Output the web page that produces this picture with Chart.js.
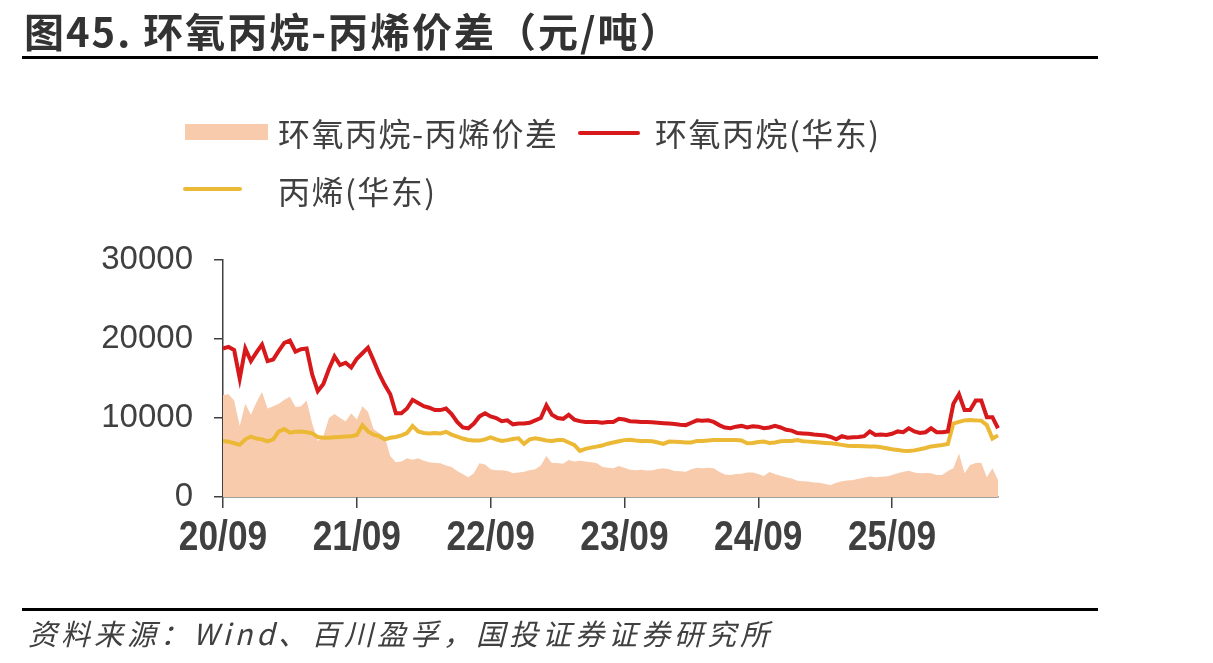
<!DOCTYPE html>
<html>
<head>
<meta charset="utf-8">
<script src="https://cdn.jsdelivr.net/npm/chart.js@4"></script>
<style>
  body { margin: 0; background: #fff; }
  #wrap { position: relative; width: 1213px; height: 663px; overflow: hidden; font-family: "Noto Sans CJK SC", sans-serif; color: #404040; }
  #c { position: absolute; left: 0; top: 0; }
  .txt { position: absolute; white-space: nowrap; }
  #title { left: 24px; top: 10px; font-size: 40px; line-height: 40px; font-weight: bold; letter-spacing: 2px; color: #333; }
  .rule { position: absolute; left: 22px; width: 1076px; height: 3px; background: #000; }
  .leg { font-size: 32px; line-height: 32px; letter-spacing: 1.5px; }
  .sw { position: absolute; }
  #source { left: 28px; top: 616px; font-size: 29px; line-height: 32px; font-style: italic; letter-spacing: 4px; }
</style>
</head>
<body>
<div id="wrap">
  <canvas id="c" width="1213" height="663"></canvas>
  <div class="txt" id="title">图45. 环氧丙烷-丙烯价差（元/吨）</div>
  <div class="rule" style="top:56px"></div>

  <div class="sw" style="left:185px;top:124px;width:83px;height:16px;background:#F8CBAD"></div>
  <div class="txt leg" style="left:278px;top:116px">环氧丙烷-丙烯价差</div>
  <div class="sw" style="left:578px;top:131px;width:62px;height:4px;border-radius:2px;background:#D7191C"></div>
  <div class="txt leg" style="left:655px;top:116px">环氧丙烷(华东)</div>
  <div class="sw" style="left:183px;top:187px;width:59px;height:4px;border-radius:2px;background:#EBB935"></div>
  <div class="txt leg" style="left:278px;top:174px">丙烯(华东)</div>

  <div class="rule" style="top:608px"></div>
  <div class="txt" id="source">资料来源：Wind、百川盈孚，国投证券证券研究所</div>
</div>

<script>
// half-month points from 2020-09 onwards
const dates = [];
for (let k = 0; k < 140; k++) {
  const m = 8 + Math.floor(k / 2);
  const y = 2020 + Math.floor(m / 12);
  const mm = String(m % 12 + 1).padStart(2, '0');
  dates.push(y + '-' + mm + (k % 2 ? '-16' : '-01'));
}

// 环氧丙烷(华东), 元/吨
const poEast = [
  18800,19000,18600,15000,18800,17200,18300,19300,17200,17400,
  18500,19500,19800,18400,18700,18800,15500,13400,14300,16200,
  17800,16700,17000,16400,17500,18200,18900,17300,15600,14200,
  13000,10600,10600,11200,12300,11900,11500,11300,11000,11000,
  11200,10500,9500,8800,8700,9300,10200,10600,10200,10000,
  9600,9700,9200,9300,9300,9400,9700,10000,11600,10400,
  10000,9900,10400,9800,9600,9500,9500,
  9500,9400,9500,9500,9900,9800,9600,9550,9500,9500,
  9450,9400,9350,9300,9250,9150,9100,9400,9700,9650,
  9700,9500,9100,8800,8700,8900,9000,8800,8950,8900,
  8700,8800,9000,8800,8500,8400,8100,8050,8000,7900,
  7850,7800,7600,7300,7700,7500,7550,7600,7700,8300,
  7850,7900,7850,8000,8300,8200,8700,8300,8100,8200,
  8700,8200,8200,8300,11800,13000,11000,11000,12200,12200,
  10100,10100,8700
];

// 丙烯(华东), 元/吨
const propEast = [
  7100,7000,6800,6600,7300,7650,7400,7300,7050,7300,
  8300,8600,8150,8250,8300,8200,8050,7600,7500,7500,
  7550,7600,7650,7700,7850,9100,8300,7900,7700,7300,
  7500,7600,7800,8100,9000,8300,8100,8050,8100,8050,
  8250,7900,7650,7400,7220,7150,7140,7300,7560,7300,
  7100,7200,7350,7430,6720,7300,7430,7300,7150,7100,
  7200,7220,6900,6590,5830,6100,6250,
  6380,6510,6750,6900,7050,7200,7250,7150,7100,7100,
  7050,6900,6720,7010,7000,6950,6900,6900,7100,7100,
  7150,7200,7220,7220,7220,7200,7150,6800,6850,6950,
  7010,6850,6900,7050,7100,7100,7200,7050,7010,6950,
  6900,6850,6800,6700,6600,6500,6460,6450,6420,6400,
  6380,6300,6170,6050,5950,5850,5830,5900,6040,6200,
  6400,6500,6590,6700,9300,9500,9700,9750,9700,9650,
  9100,7400,7800
];

// 环氧丙烷-丙烯价差, 元/吨
const spread = [
  12900,13000,12200,9000,11800,10400,12000,13300,11200,11500,
  11800,12300,12700,11400,11500,12200,9300,7100,7700,10000,
  10500,10000,9600,10600,9800,11500,10800,8600,8100,7600,
  5200,4400,4500,4900,4700,4900,4600,4400,4300,4270,
  4000,3800,3300,2900,2500,3000,4270,4100,3500,3400,
  3400,3300,3000,3100,3200,3400,3500,4000,5200,4300,
  4300,4200,4690,4500,4600,4500,4400,
  4300,3840,3700,3650,3930,3700,3450,3400,3450,3350,
  3400,3550,3630,3500,3300,3250,3210,3500,3700,3650,
  3700,3650,3200,2850,2800,2900,2950,3100,3100,2900,
  2660,3150,2900,2700,2500,2350,2070,2000,1950,1850,
  1800,1650,1520,1800,2000,2100,2150,2300,2450,2600,
  2500,2550,2600,2800,3000,3200,3330,3100,3000,3050,
  3000,2800,2790,3300,3630,5500,3000,4060,4300,4350,
  2500,3630,2150
];

const yTicks = [0, 10000, 20000, 30000];
const axisColor = '#404040';

// draws the x tick labels in a condensed bold face (no narrow font installed)
const condensedXLabels = {
  id: 'condensedXLabels',
  afterDraw(chart) {
    const s = chart.scales.x;
    const ctx = chart.ctx;
    ctx.save();
    ctx.font = 'bold 42px "Liberation Sans", Arial, sans-serif';
    ctx.fillStyle = axisColor;
    ctx.textAlign = 'center';
    ctx.textBaseline = 'middle';
    s.ticks.forEach((t, i) => {
      if (t.label == null) return;
      ctx.save();
      ctx.translate(s.getPixelForTick(i), s.top + 41);
      ctx.scale(0.84, 1);
      ctx.fillText(t.label, 0, 0);
      ctx.restore();
    });
    ctx.restore();
  }
};

new Chart(document.getElementById('c'), {
  type: 'line',
  data: {
    labels: dates,
    datasets: [
      { label: '环氧丙烷-丙烯价差', data: spread, fill: 'origin', backgroundColor: '#F8CBAD',
        borderColor: 'rgba(0,0,0,0)', borderWidth: 0, pointRadius: 0, order: 3 },
      { label: '环氧丙烷(华东)', data: poEast, borderColor: '#D7191C', borderWidth: 4,
        pointRadius: 0, fill: false, order: 1 },
      { label: '丙烯(华东)', data: propEast, borderColor: '#EBB935', borderWidth: 4,
        pointRadius: 0, fill: false, order: 2 }
    ]
  },
  plugins: [condensedXLabels],
  options: {
    responsive: false,
    animation: false,
    plugins: { legend: { display: false }, tooltip: { enabled: false } },
    layout: { padding: { left: 0, right: 215, top: 260, bottom: 96 } },
    scales: {
      x: {
        grid: { drawOnChartArea: false, drawTicks: true, tickLength: 11, color: axisColor, lineWidth: 1.5 },
        border: { display: true, color: axisColor, width: 1.5 },
        ticks: {
          autoSkip: false, maxRotation: 0, minRotation: 0, color: 'rgba(0,0,0,0)',
          font: { size: 12 },
          callback: (v, i) => dates[i].slice(5) === '09-01' ? dates[i].slice(2, 4) + '/09' : null
        },
        afterFit: s => { s.height = 70; }
      },
      y: {
        min: 0, max: 30000,
        afterBuildTicks: s => { s.ticks = yTicks.map(v => ({ value: v })); },
        grid: { drawOnChartArea: false, drawTicks: true, tickLength: 9, color: axisColor, lineWidth: 1.5 },
        border: { display: true, color: axisColor, width: 1.5 },
        ticks: { padding: 21, color: axisColor, font: { family: '"Liberation Sans", Arial, sans-serif', size: 33 },
          callback: v => String(v) },
        afterFit: s => { s.width = 223; }
      }
    }
  }
});
</script>
</body>
</html>
